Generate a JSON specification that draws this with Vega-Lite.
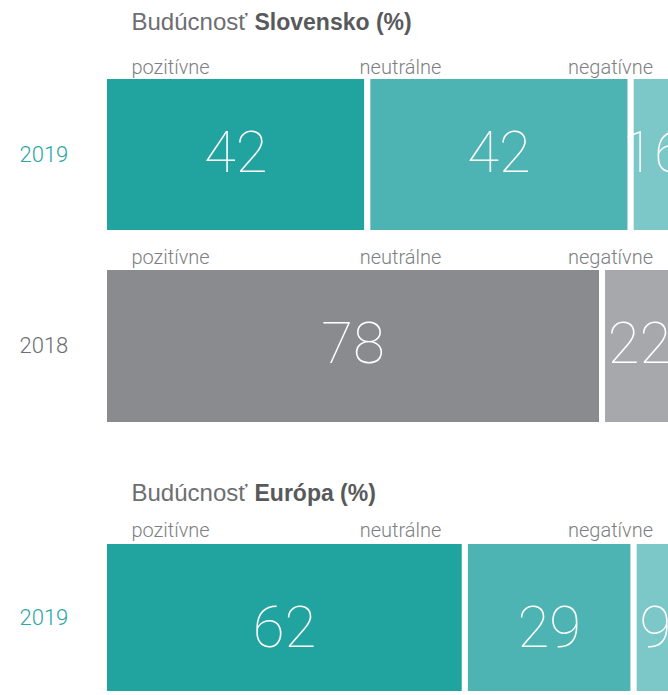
{
  "$schema": "https://vega.github.io/schema/vega-lite/v6.json",
  "background": "white",
  "padding": {"top": 10, "left": 19, "right": 0, "bottom": 0},
  "config": {"view": {"stroke": null}},
  "data": {"values": [
    {"region": "Slovensko", "year": "2019", "cat": "pozitívne", "value": 42},
    {"region": "Slovensko", "year": "2019", "cat": "neutrálne", "value": 42},
    {"region": "Slovensko", "year": "2019", "cat": "negatívne", "value": 16},
    {"region": "Slovensko", "year": "2018", "cat": "pozitívne", "value": 78},
    {"region": "Slovensko", "year": "2018", "cat": "negatívne", "value": 22},
    {"region": "Európa", "year": "2019", "cat": "pozitívne", "value": 62},
    {"region": "Európa", "year": "2019", "cat": "neutrálne", "value": 29},
    {"region": "Európa", "year": "2019", "cat": "negatívne", "value": 9}
  ]},
  "resolve": {"scale": {"x": "independent", "y": "independent", "color": "independent"}, "axis": {"x": "independent", "y": "independent"}},
  "spacing": 56,
  "vconcat": [
    {
      "resolve": {"scale": {"x": "independent", "y": "independent", "color": "independent"}, "axis": {"x": "independent", "y": "independent"}},
      "spacing": 14,
      "vconcat": [
        {
          "width": 564, "height": 157,
          "transform": [
            {"filter": "datum.region == 'Slovensko' && datum.year == '2019'"},
            {"stack": "value", "groupby": ["region", "year"], "sort": [{"field": "cat", "order": "descending"}], "as": ["s0", "s1"]},
            {"calculate": "(datum.s0 + min(datum.s1, 91.4)) / 2", "as": "lx"}
          ],
          "encoding": {
            "y": {"field": "year", "type": "nominal", "scale": {"paddingInner": 0, "paddingOuter": 0},
              "axis": {"orient": "left", "domain": false, "ticks": false, "tickSize": 0, "labelPadding": 85, "labelAlign": "left", "labelBaseline": "middle", "labelFont": "Roboto", "labelFontWeight": 300, "labelFontSize": 22, "labelColor": "#2ba6a3",
                "title": "Budúcnosť", "titleAngle": 0, "titleX": 27, "titleY": -47, "titleAlign": "left", "titleBaseline": "alphabetic", "titleFont": "Liberation Sans", "titleFontSize": 24, "titleFontWeight": "normal", "titleColor": "#6d6e71", "zindex": 1}}
          },
          "layer": [
            {"mark": {"type": "bar", "stroke": "white", "strokeWidth": 6, "clip": true},
              "encoding": {
                "x": {"field": "s0", "type": "quantitative", "scale": {"domain": [0, 89.95], "nice": false},
                  "axis": {"orient": "top", "values": [10.53, 47.2, 80.7], "labelExpr": "datum.value < 20 ? 'pozitívne' : datum.value < 60 ? 'neutrálne' : 'negatívne'", "domain": false, "ticks": false, "tickSize": 0, "grid": false, "labelPadding": 3, "labelBaseline": "alphabetic", "labelAlign": "center", "labelFlush": false, "labelOverlap": false, "labelFont": "Roboto", "labelFontWeight": 300, "labelFontSize": 20, "labelColor": "#7d7f82", "minExtent": 0,
                    "title": "Slovensko (%)", "titleX": 150, "titleY": -47, "titleAlign": "left", "titleAnchor": "start", "titleBaseline": "alphabetic", "titleFont": "Liberation Sans", "titleFontSize": 23, "titleFontWeight": "bold", "titleColor": "#58595b", "zindex": 1}},
                "x2": {"field": "s1"},
                "color": {"field": "cat", "type": "nominal", "scale": {"domain": ["pozitívne", "neutrálne", "negatívne"], "range": ["#21a39f", "#4db3b3", "#7cc8c8"]}, "legend": null}
              }},
            {"mark": {"type": "text", "color": "white", "font": "Roboto", "fontWeight": 100, "fontSize": 58, "align": "center", "baseline": "middle", "clip": true},
              "encoding": {
                "x": {"field": "lx", "type": "quantitative"},
                "text": {"field": "value", "type": "quantitative"}
              }}
          ]
        },
        {
          "width": 564, "height": 158,
          "transform": [
            {"filter": "datum.region == 'Slovensko' && datum.year == '2018'"},
            {"stack": "value", "groupby": ["region", "year"], "sort": [{"field": "cat", "order": "descending"}], "as": ["s0", "s1"]},
            {"calculate": "(datum.s0 + min(datum.s1, 89.74)) / 2", "as": "lx"}
          ],
          "encoding": {
            "y": {"field": "year", "type": "nominal", "scale": {"paddingInner": 0, "paddingOuter": 0},
              "axis": {"orient": "left", "domain": false, "ticks": false, "tickSize": 0, "labelPadding": 85, "labelAlign": "left", "labelBaseline": "middle", "labelFont": "Roboto", "labelFontWeight": 300, "labelFontSize": 22, "labelColor": "#6d6e71", "title": null, "zindex": 1}}
          },
          "layer": [
            {"mark": {"type": "bar", "stroke": "white", "strokeWidth": 6, "clip": true},
              "encoding": {
                "x": {"field": "s0", "type": "quantitative", "scale": {"domain": [0, 88.33], "nice": false},
                  "axis": {"orient": "top", "values": [10.34, 46.36, 79.25], "labelExpr": "datum.value < 20 ? 'pozitívne' : datum.value < 60 ? 'neutrálne' : 'negatívne'", "domain": false, "ticks": false, "tickSize": 0, "grid": false, "labelPadding": 4, "labelBaseline": "alphabetic", "labelAlign": "center", "labelFlush": false, "labelOverlap": false, "labelFont": "Roboto", "labelFontWeight": 300, "labelFontSize": 20, "labelColor": "#7d7f82", "minExtent": 0, "title": null, "zindex": 1}},
                "x2": {"field": "s1"},
                "color": {"field": "cat", "type": "nominal", "scale": {"domain": ["pozitívne", "negatívne"], "range": ["#8a8b8f", "#a7a8ab"]}, "legend": null}
              }},
            {"mark": {"type": "text", "color": "white", "font": "Roboto", "fontWeight": 100, "fontSize": 58, "align": "center", "baseline": "middle", "clip": true},
              "encoding": {
                "x": {"field": "lx", "type": "quantitative"},
                "text": {"field": "value", "type": "quantitative"}
              }}
          ]
        }
      ]
    },
    {
      "width": 564, "height": 153,
      "transform": [
        {"filter": "datum.region == 'Európa' && datum.year == '2019'"},
        {"stack": "value", "groupby": ["region", "year"], "sort": [{"field": "cat", "order": "descending"}], "as": ["s0", "s1"]},
        {"calculate": "(datum.s0 + min(datum.s1, 98.45)) / 2", "as": "lx"}
      ],
      "encoding": {
        "y": {"field": "year", "type": "nominal", "scale": {"paddingInner": 0, "paddingOuter": 0},
          "axis": {"orient": "left", "domain": false, "ticks": false, "tickSize": 0, "labelPadding": 85, "labelAlign": "left", "labelBaseline": "middle", "labelFont": "Roboto", "labelFontWeight": 300, "labelFontSize": 22, "labelColor": "#2ba6a3",
            "title": "Budúcnosť", "titleAngle": 0, "titleX": 27, "titleY": -41, "titleAlign": "left", "titleBaseline": "alphabetic", "titleFont": "Liberation Sans", "titleFontSize": 24, "titleFontWeight": "normal", "titleColor": "#6d6e71", "zindex": 1}}
      },
      "layer": [
        {"mark": {"type": "bar", "stroke": "white", "strokeWidth": 6, "clip": true},
          "encoding": {
            "x": {"field": "s0", "type": "quantitative", "scale": {"domain": [0, 96.9], "nice": false},
              "axis": {"orient": "top", "values": [11.34, 50.86, 86.94], "labelExpr": "datum.value < 20 ? 'pozitívne' : datum.value < 70 ? 'neutrálne' : 'negatívne'", "domain": false, "ticks": false, "tickSize": 0, "grid": false, "labelPadding": 5, "labelBaseline": "alphabetic", "labelAlign": "center", "labelFlush": false, "labelOverlap": false, "labelFont": "Roboto", "labelFontWeight": 300, "labelFontSize": 20, "labelColor": "#7d7f82", "minExtent": 0,
                "title": "Európa (%)", "titleX": 150, "titleY": -41, "titleAlign": "left", "titleAnchor": "start", "titleBaseline": "alphabetic", "titleFont": "Liberation Sans", "titleFontSize": 23, "titleFontWeight": "bold", "titleColor": "#58595b", "zindex": 1}},
            "x2": {"field": "s1"},
            "color": {"field": "cat", "type": "nominal", "scale": {"domain": ["pozitívne", "neutrálne", "negatívne"], "range": ["#21a39f", "#4db3b3", "#7cc8c8"]}, "legend": null}
          }},
        {"mark": {"type": "text", "color": "white", "font": "Roboto", "fontWeight": 100, "fontSize": 58, "align": "center", "baseline": "middle", "dy": 12, "clip": true},
          "encoding": {
            "x": {"field": "lx", "type": "quantitative"},
            "text": {"field": "value", "type": "quantitative"}
          }}
      ]
    }
  ]
}
